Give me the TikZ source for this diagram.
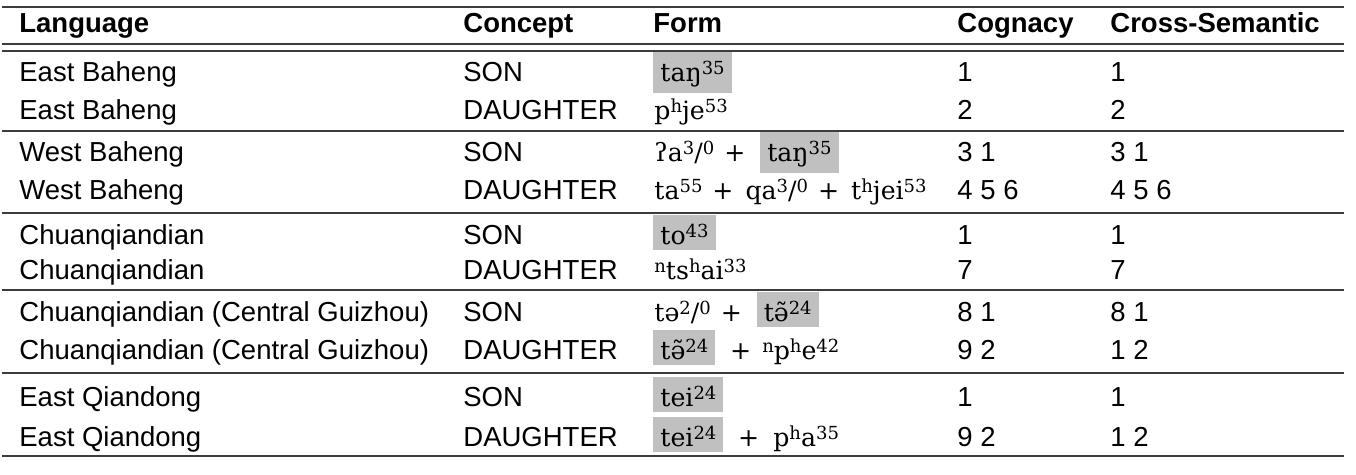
\documentclass[tikz,border=0pt]{standalone}
\usepackage{fontspec}
\setmainfont{Liberation Sans}
\newfontfamily\ipafont{DejaVu Serif}
\definecolor{boxgray}{RGB}{192,192,192}
\definecolor{rulegray}{RGB}{60,60,60}
\newcommand\spp[1]{\raisebox{3.6pt}{\fontsize{9pt}{9pt}\selectfont #1}}
\newcommand\pl{\hspace{5pt}+\hspace{6pt}}
\begin{document}
\begin{tikzpicture}[x=0.5pt,y=-0.5pt,
  txt/.style={anchor=base west, inner sep=0pt, font=\fontsize{13.75pt}{16pt}\selectfont},
  hdr/.style={anchor=base west, inner sep=0pt, font=\fontsize{13.75pt}{16pt}\selectfont\bfseries},
  ft/.style={anchor=base west, inner sep=0pt, font=\fontsize{12.6pt}{14pt}\selectfont\ipafont},
  hl/.style={ft, fill=boxgray, inner xsep=3.5pt, inner ysep=2.5pt, text height=12.5pt},
  tabrule/.style={line width=0.8pt, rulegray}]
\useasboundingbox (0,0) rectangle (1356,475);
% rules
\draw[tabrule] (2,7) -- (1344,7);
\draw[tabrule] (2,44) -- (1344,44);
\draw[tabrule] (2,51) -- (1344,51);
\draw[tabrule] (2,131) -- (1344,131);
\draw[tabrule] (2,213) -- (1344,213);
\draw[tabrule] (2,290) -- (1344,290);
\draw[tabrule] (2,373) -- (1344,373);
\draw[tabrule] (2,456) -- (1344,456);
% header
\node[hdr] (h1) at (19,33) {Language};
\node[hdr] (h2) at (463,33) {Concept};
\node[hdr] (h3) at (653,33) {Form};
\node[hdr] (h4) at (957,33) {Cognacy};
\node[hdr] (h5) at (1110,33) {Cross-Semantic};
% languages
\node[txt] (l1) at (19,82) {East Baheng};
\node[txt] (l2) at (19,120) {East Baheng};
\node[txt] (l3) at (19,162) {West Baheng};
\node[txt] (l4) at (19,200) {West Baheng};
\node[txt] (l5) at (19,245) {Chuanqiandian};
\node[txt] (l6) at (19,280) {Chuanqiandian};
\node[txt] (l7) at (19,322) {Chuanqiandian (Central Guizhou)};
\node[txt] (l8) at (19,360) {Chuanqiandian (Central Guizhou)};
\node[txt] (l9) at (19,407) {East Qiandong};
\node[txt] (l10) at (19,447) {East Qiandong};
% concepts
\node[txt] (c1) at (463,82) {SON};
\node[txt] (c2) at (463,120) {DAUGHTER};
\node[txt] (c3) at (463,162) {SON};
\node[txt] (c4) at (463,200) {DAUGHTER};
\node[txt] (c5) at (463,245) {SON};
\node[txt] (c6) at (463,280) {DAUGHTER};
\node[txt] (c7) at (463,322) {SON};
\node[txt] (c8) at (463,360) {DAUGHTER};
\node[txt] (c9) at (463,407) {SON};
\node[txt] (c10) at (463,447) {DAUGHTER};
% forms
\node[hl] (f1) at (653,82) {taŋ\spp{35}};
\node[ft] (f2) at (654,120) {p\spp{h}je\spp{53}};
\node[ft] (f3a) at (654,162) {ʔa\spp{3}/\spp{0}\hspace{5pt}+};
\node[hl] (f3b) at ([xshift=7pt]f3a.base east) {taŋ\spp{35}};
\node[ft] (f4) at (654,200) {ta\spp{55}\pl qa\spp{3}/\spp{0}\pl t\spp{h}jei\spp{53}};
\node[hl] (f5) at (653,245) {to\spp{43}};
\node[ft] (f6) at (654,280) {\spp{n}ts\spp{h}ai\spp{33}};
\node[ft] (f7a) at (654,322) {tə\spp{2}/\spp{0}\hspace{5pt}+};
\node[hl] (f7b) at ([xshift=7pt]f7a.base east) {tə̃\spp{24}};
\node[hl] (f8a) at (653,360) {tə̃\spp{24}};
\node[ft] (f8b) at ([xshift=7pt]f8a.base east) {+\hspace{5.5pt}\spp{n}p\spp{h}e\spp{42}};
\node[hl] (f9) at (653,407) {tei\spp{24}};
\node[hl] (f10a) at (653,447) {tei\spp{24}};
\node[ft] (f10b) at ([xshift=7pt]f10a.base east) {+\hspace{7pt}p\spp{h}a\spp{35}};
% cognacy
\node[txt] (g1) at (957,82) {1};
\node[txt] (g2) at (957,120) {2};
\node[txt] (g3) at (957,162) {3 1};
\node[txt] (g4) at (957,200) {4 5 6};
\node[txt] (g5) at (957,245) {1};
\node[txt] (g6) at (957,280) {7};
\node[txt] (g7) at (957,322) {8 1};
\node[txt] (g8) at (957,360) {9 2};
\node[txt] (g9) at (957,407) {1};
\node[txt] (g10) at (957,447) {9 2};
% cross-semantic
\node[txt] (s1) at (1110,82) {1};
\node[txt] (s2) at (1110,120) {2};
\node[txt] (s3) at (1110,162) {3 1};
\node[txt] (s4) at (1110,200) {4 5 6};
\node[txt] (s5) at (1110,245) {1};
\node[txt] (s6) at (1110,280) {7};
\node[txt] (s7) at (1110,322) {8 1};
\node[txt] (s8) at (1110,360) {1 2};
\node[txt] (s9) at (1110,407) {1};
\node[txt] (s10) at (1110,447) {1 2};
\end{tikzpicture}
\end{document}
